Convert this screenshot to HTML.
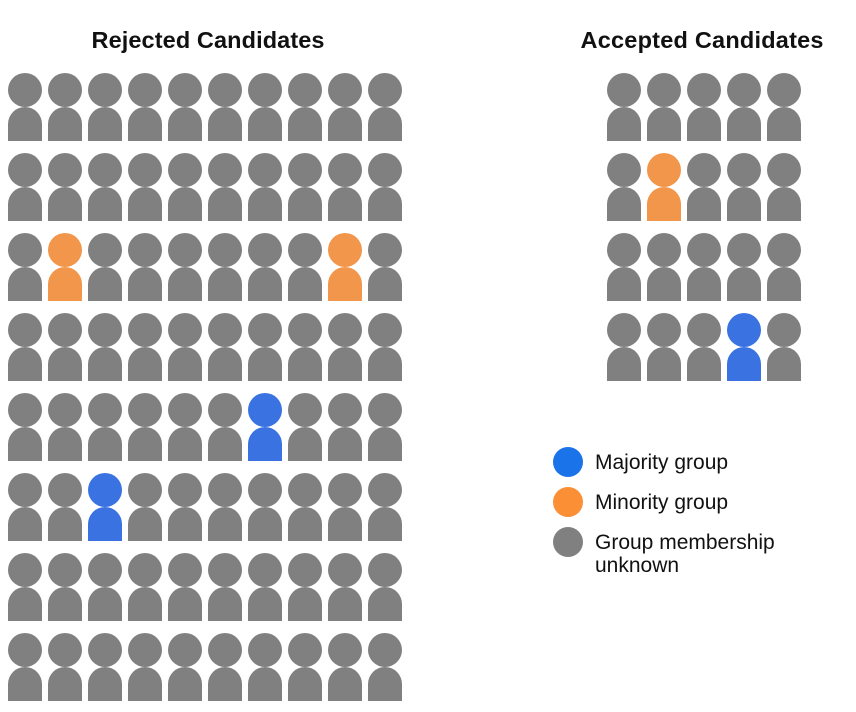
<!DOCTYPE html>
<html><head><style>
body{margin:0;background:#fff;width:856px;height:707px;overflow:hidden}
</style></head><body>
<svg width="856" height="707" xmlns="http://www.w3.org/2000/svg" font-family="Liberation Sans, sans-serif">
<defs>
<g id="p"><circle cx="17" cy="17" r="17"/><path d="M0 68 V51 A17 17 0 0 1 17 34 A17 17 0 0 1 34 51 V68 Z"/></g>
</defs>
<text x="208" y="48" font-size="23.5" font-weight="bold" text-anchor="middle" fill="#111" textLength="233">Rejected Candidates</text>
<text x="702" y="48" font-size="23.5" font-weight="bold" text-anchor="middle" fill="#111" textLength="243">Accepted Candidates</text>
<g id="icons"></g>
<circle cx="568" cy="462" r="15" fill="#1a73e8"/>
<circle cx="568" cy="502" r="15" fill="#fa8f35"/>
<circle cx="568" cy="542" r="15" fill="#808080"/>
<g font-size="21" fill="#111">
<text x="595" y="469">Majority group</text>
<text x="595" y="509">Minority group</text>
<text x="595" y="549">Group membership</text>
<text x="595" y="572">unknown</text>
</g>
<script>
var g=document.getElementById('icons'),ns='http://www.w3.org/2000/svg';
function add(x,y,c){var u=document.createElementNS(ns,'use');u.setAttribute('href','#p');u.setAttribute('x',x);u.setAttribute('y',y);u.setAttribute('fill',c);g.appendChild(u);}
var O='#f2964b',B='#3a72e2',G='#808080';
var rs={'2,1':O,'2,8':O,'4,6':B,'5,2':B};
for(var r=0;r<8;r++)for(var c=0;c<10;c++)add(8+40*c,73+80*r,rs[r+','+c]||G);
var as={'1,1':O,'3,3':B};
for(var r=0;r<4;r++)for(var c=0;c<5;c++)add(607+40*c,73+80*r,as[r+','+c]||G);
</script>
</svg>
</body></html>
